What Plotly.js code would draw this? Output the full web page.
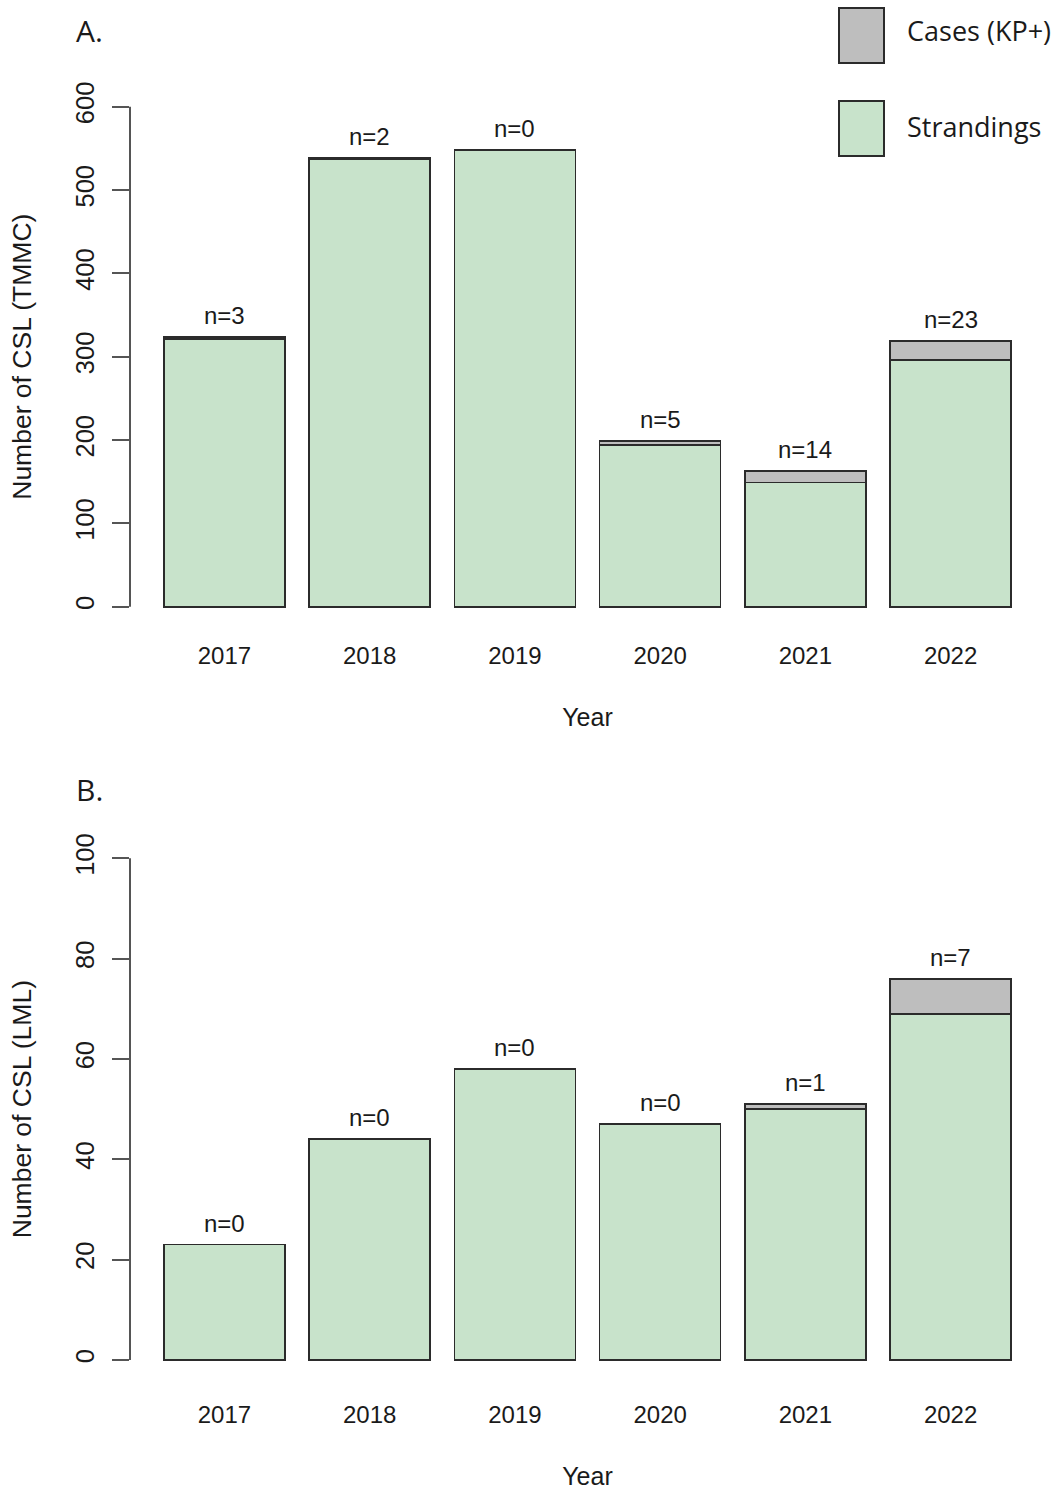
<!DOCTYPE html>
<html>
<head>
<meta charset="utf-8">
<script src="https://cdn.plot.ly/plotly-3.0.1.min.js"></script>
<style>html,body{margin:0;padding:0;background:#fff;}#chart{width:1063px;height:1493px;}</style>
</head>
<body>
<div id="chart"></div>
<script>
// ---- Data ----
const years = ["2017", "2018", "2019", "2020", "2021", "2022"];
// Panel A: TMMC
const strandingsA = [324, 539, 548, 199, 163, 319];   // total bar height
const casesA      = [3, 2, 0, 5, 14, 23];              // KP+ cases (grey, on top)
// Panel B: LML
const strandingsB = [23, 44, 58, 47, 51, 76];
const casesB      = [0, 0, 0, 0, 1, 7];
const yTicksA = [0, 100, 200, 300, 400, 500, 600];
const yTicksB = [0, 20, 40, 60, 80, 100];

// ---- Styles ----
const GREEN = "#C8E3CB";
const GREY = "#BEBEBE";
const EDGE = "#2b2b2b";
const AXC = "#555555";
const NUMFONT = "Liberation Sans, Arial, sans-serif";
const MYRIAD = "Open Sans, Noto Sans, sans-serif";
const W = 1063, H = 1493;

function minus(a, b) { return a.map((v, i) => v - b[i]); }

function traces(tot, cases, xa, ya) {
  return [
    { type: "bar", x: years, y: minus(tot, cases), xaxis: xa, yaxis: ya, name: "Strandings",
      marker: { color: GREEN, line: { color: EDGE, width: 1.6 } }, showlegend: false, hoverinfo: "x+y" },
    { type: "bar", x: years, y: cases, xaxis: xa, yaxis: ya, name: "Cases (KP+)",
      marker: { color: GREY, line: { color: EDGE, width: 1.6 } }, showlegend: false, hoverinfo: "x+y" }
  ];
}

const data = [].concat(traces(strandingsA, casesA, "x", "y"), traces(strandingsB, casesB, "x2", "y2"));

function px2paperY(py) { return 1 - py / H; }
function px2paperX(px) { return px / W; }

const xdom = [px2paperX(130), px2paperX(1045)];

function xaxisCfg(anchor, standoff, titleStandoff) {
  return {
    domain: xdom, anchor: anchor, type: "category", range: [-0.65, 5.65],
    showline: false, ticks: "", showgrid: false, zeroline: false, automargin: false,
    tickfont: { family: NUMFONT, size: 24, color: "#1a1a1a" },
    ticklabelstandoff: standoff,
    title: { text: "Year", font: { family: NUMFONT, size: 25, color: "#1a1a1a" }, standoff: titleStandoff }
  };
}
function yaxisCfg(anchor, dom, range, ticks, title) {
  return {
    domain: dom, anchor: anchor, range: range, tickmode: "array", tickvals: ticks,
    ticks: "outside", ticklen: 17, tickwidth: 2, tickcolor: AXC,
    tickangle: -90, showline: false, showgrid: false, zeroline: false, automargin: false,
    tickfont: { family: NUMFONT, size: 25.5, color: "#1a1a1a" },
    ticklabelstandoff: 8,
    title: { text: title, font: { family: NUMFONT, size: 26.5, color: "#1a1a1a" }, standoff: 31 }
  };
}

const annotations = [];
function nLabels(tot, cases, xref, yref) {
  years.forEach((yr, i) => {
    annotations.push({ x: i, y: tot[i], xref: xref, yref: yref, text: "n=" + cases[i],
      showarrow: false, yanchor: "bottom", yshift: 6,
      font: { family: NUMFONT, size: 24, color: "#1a1a1a" } });
  });
}
nLabels(strandingsA, casesA, "x", "y");
nLabels(strandingsB, casesB, "x2", "y2");

annotations.push({ x: px2paperX(74), y: px2paperY(30), xref: "paper", yref: "paper", xanchor: "left", yanchor: "middle",
  text: "A.", showarrow: false, font: { family: MYRIAD, size: 30, color: "#1a1a1a" } });
annotations.push({ x: px2paperX(74), y: px2paperY(789), xref: "paper", yref: "paper", xanchor: "left", yanchor: "middle",
  text: "B.", showarrow: false, font: { family: MYRIAD, size: 30, color: "#1a1a1a" } });
annotations.push({ x: px2paperX(905), y: px2paperY(31), xref: "paper", yref: "paper", xanchor: "left", yanchor: "middle",
  text: "Cases (KP+)", showarrow: false, font: { family: MYRIAD, size: 27, color: "#1a1a1a" } });
annotations.push({ x: px2paperX(905), y: px2paperY(127), xref: "paper", yref: "paper", xanchor: "left", yanchor: "middle",
  text: "Strandings", showarrow: false, font: { family: MYRIAD, size: 27, color: "#1a1a1a" } });

const shapes = [
  { type: "line", xref: "x domain", yref: "y", x0: 0, x1: 0, y0: yTicksA[0], y1: yTicksA[yTicksA.length - 1],
    line: { color: AXC, width: 2 } },
  { type: "line", xref: "x2 domain", yref: "y2", x0: 0, x1: 0, y0: yTicksB[0], y1: yTicksB[yTicksB.length - 1],
    line: { color: AXC, width: 2 } },
  { type: "rect", xref: "paper", yref: "paper", x0: px2paperX(839), x1: px2paperX(884), y0: px2paperY(63), y1: px2paperY(8),
    fillcolor: GREY, line: { color: EDGE, width: 2 } },
  { type: "rect", xref: "paper", yref: "paper", x0: px2paperX(839), x1: px2paperX(884), y0: px2paperY(156), y1: px2paperY(101),
    fillcolor: GREEN, line: { color: EDGE, width: 2 } }
];

const layout = {
  width: W, height: H,
  margin: { l: 0, r: 0, t: 0, b: 0, pad: 0 },
  paper_bgcolor: "#ffffff", plot_bgcolor: "#ffffff",
  barmode: "stack", bargap: 1 / 6,
  showlegend: false,
  xaxis: xaxisCfg("y", 12, 40),
  xaxis2: xaxisCfg("y2", 18, 40),
  yaxis: yaxisCfg("x", [px2paperY(626.7), px2paperY(86.7)], [-24, 624], yTicksA, "Number of CSL (TMMC)"),
  yaxis2: yaxisCfg("x2", [px2paperY(1380), px2paperY(838.3)], [-4, 104], yTicksB, "Number of CSL (LML)"),
  annotations: annotations,
  shapes: shapes
};

Plotly.newPlot("chart", data, layout, { displayModeBar: false, staticPlot: true });
</script>
</body>
</html>
